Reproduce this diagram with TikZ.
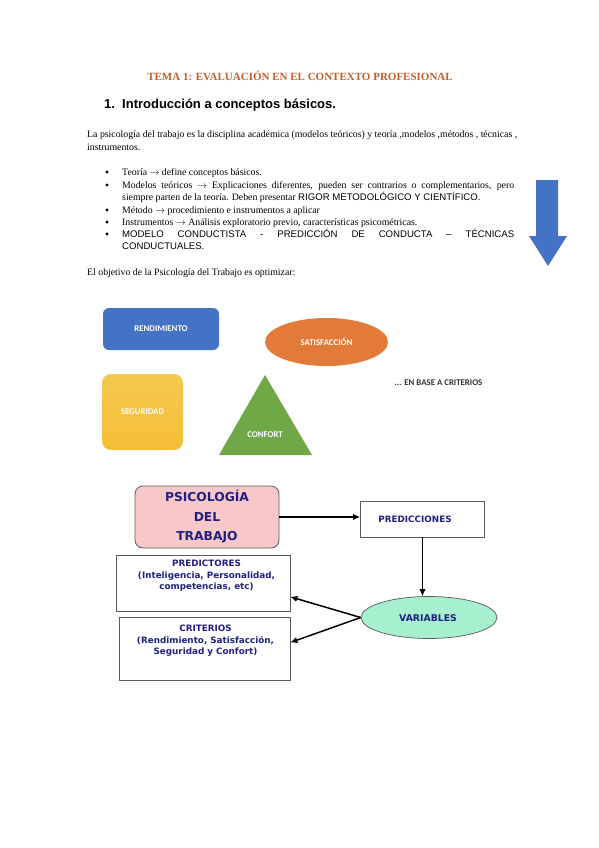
\documentclass[tikz,border=0pt]{standalone}
\usepackage{fontspec}
\setmainfont{Liberation Serif}
\newfontfamily\arialf{Liberation Sans}
\newfontfamily\dvs{DejaVu Sans}
\newfontfamily\carl{Carlito}
\usetikzlibrary{arrows.meta,shapes.geometric}
\definecolor{titlec}{RGB}{192,96,42}
\definecolor{blueA}{RGB}{68,114,196}
\definecolor{orangeA}{RGB}{226,123,58}
\definecolor{yellowA}{RGB}{244,195,60}
\definecolor{greenA}{RGB}{112,168,72}
\definecolor{navyT}{RGB}{32,32,128}
\definecolor{pinkF}{RGB}{248,200,200}
\definecolor{mintF}{RGB}{166,239,207}
\definecolor{boxD}{RGB}{90,90,90}
\newcommand{\rarr}{$\rightarrow$}
\begin{document}
\begin{tikzpicture}[x=1pt,y=-1pt,
  txt/.style={inner sep=0pt,anchor=base west,font=\fontsize{9.8}{12}\selectfont},
  bul/.style={circle,fill=black,inner sep=0pt,minimum size=3.4pt},
  shp/.style={inner sep=0pt,text=white,font=\carl\bfseries\fontsize{8.8}{10}\selectfont},
  dtext/.style={inner sep=0pt,align=center,text=navyT,font=\dvs\bfseries\fontsize{8.8}{11.5}\selectfont},
  wbox/.style={draw=boxD,line width=0.7pt,fill=white,inner sep=0pt},
  arr/.style={-{Latex[length=7pt,width=6.5pt]},line width=1.5pt,black}]
\useasboundingbox[fill=white] (0,0) rectangle (599,848);

% title and heading
\node[inner sep=0pt,anchor=base,text=titlec,font=\bfseries\fontsize{11}{13}\selectfont] (title) at (300,81) {TEMA 1: EVALUACIÓN EN EL CONTEXTO PROFESIONAL};
\node[inner sep=0pt,anchor=base west,font=\arialf\bfseries\fontsize{13}{15}\selectfont] (hnum) at (104,109) {1.};
\node[inner sep=0pt,anchor=base west,font=\arialf\bfseries\fontsize{13}{15}\selectfont] (head) at (122,109) {Introducción a conceptos básicos.};

% paragraph
\node[txt] (p1) at (87,138) {\makebox[430pt][s]{La psicología del trabajo es la disciplina académica (modelos teóricos) y teoría ,modelos ,métodos , técnicas ,}};
\node[txt] (p2) at (87,150) {instrumentos.};

% bullets
\node[bul] (b1) at (107,172) {};
\node[txt] (l1) at (122,175) {Teoría \rarr{} define conceptos básicos.};
\node[bul] (b2) at (107,185) {};
\node[txt] (l2) at (122,188) {\makebox[392pt][s]{Modelos teóricos \rarr{} Explicaciones diferentes, pueden ser contrarios o complementarios, pero}};
\node[txt] (l3) at (122,200) {siempre parten de la teoría. Deben presentar {\arialf\fontsize{9.6}{11}\selectfont RIGOR METODOLÓGICO Y CIENTÍFICO.}};
\node[bul] (b3) at (107,210) {};
\node[txt] (l4) at (122,213) {Método \rarr{} procedimiento e instrumentos a aplicar};
\node[bul] (b4) at (107,222) {};
\node[txt] (l5) at (122,225) {Instrumentos \rarr{} Análisis exploratorio previo, características psicométricas.};
\node[bul] (b5) at (107,234) {};
\node[txt] (l6) at (122,237) {\arialf\fontsize{9.6}{11}\selectfont\makebox[392pt][s]{MODELO CONDUCTISTA - PREDICCIÓN DE CONDUCTA – TÉCNICAS}};
\node[txt] (l7) at (122,249) {\arialf\fontsize{9.6}{11}\selectfont CONDUCTUALES.};
\node[txt] (obj) at (87,275) {El objetivo de la Psicología del Trabajo es optimizar:};

% big blue arrow
\fill[blueA] (536,180) -- (558,180) -- (558,236) -- (567,236) -- (548,266) -- (529,236) -- (536,236) -- cycle;

% top figure
\node[shp,fill=blueA,rounded corners=6pt,minimum width=116pt,minimum height=42pt] (rend) at (161,329) {RENDIMIENTO};
\node[shp,ellipse,fill=orangeA,minimum width=123pt,minimum height=48pt] (sat) at (326.5,342) {SATISFACCIÓN};
\node[shp,top color=yellowA!90!white,bottom color=yellowA!92!orange,rounded corners=9pt,minimum width=81pt,minimum height=76pt] (seg) at (142.5,412) {SEGURIDAD};
\fill[greenA] (265,375) -- (312,455) -- (219,455) -- cycle;
\node[shp] (conf) at (265,435) {CONFORT};
\node[inner sep=0pt,text=black!80,font=\carl\bfseries\fontsize{8.8}{10}\selectfont] (crit0) at (438.5,383) {... EN BASE A CRITERIOS};

% lower diagram
\node[draw=boxD,line width=0.8pt,fill=pinkF,rounded corners=8pt,minimum width=144pt,minimum height=62pt,inner sep=0pt,align=center,text=navyT,font=\dvs\bfseries\fontsize{12.3}{19.5}\selectfont] (psi) at (207,517) {PSICOLOGÍA\\DEL\\TRABAJO};
\node[wbox,minimum width=124pt,minimum height=36pt] (pdc) at (422.5,519) {};
\node[dtext] (pdct) at (415,519) {PREDICCIONES};
\node[wbox,ellipse,fill=mintF,draw=black!65,minimum width=136pt,minimum height=42pt] (var) at (429,617.5) {};
\node[dtext,font=\dvs\bfseries\fontsize{9.3}{10}\selectfont] (vart) at (428,618) {VARIABLES};
\node[wbox,minimum width=174pt,minimum height=56pt] (pred) at (203,583) {};
\node[dtext] (predt) at (206.5,576) {PREDICTORES\\(Inteligencia, Personalidad,\\competencias, etc)};
\node[wbox,minimum width=171pt,minimum height=63pt] (crit) at (204.5,648.5) {};
\node[dtext] (critt) at (205.5,641) {CRITERIOS\\(Rendimiento, Satisfacción,\\Seguridad y Confort)};

\draw[arr] (psi.east) -- (psi.east -| pdc.west);
\draw[arr] (pdc.south) -- (pdc.south |- var.north);
\draw[arr] (var.west) -- (pred.-9);
\draw[arr] (var.west) -- (crit.4);
\end{tikzpicture}
\end{document}
